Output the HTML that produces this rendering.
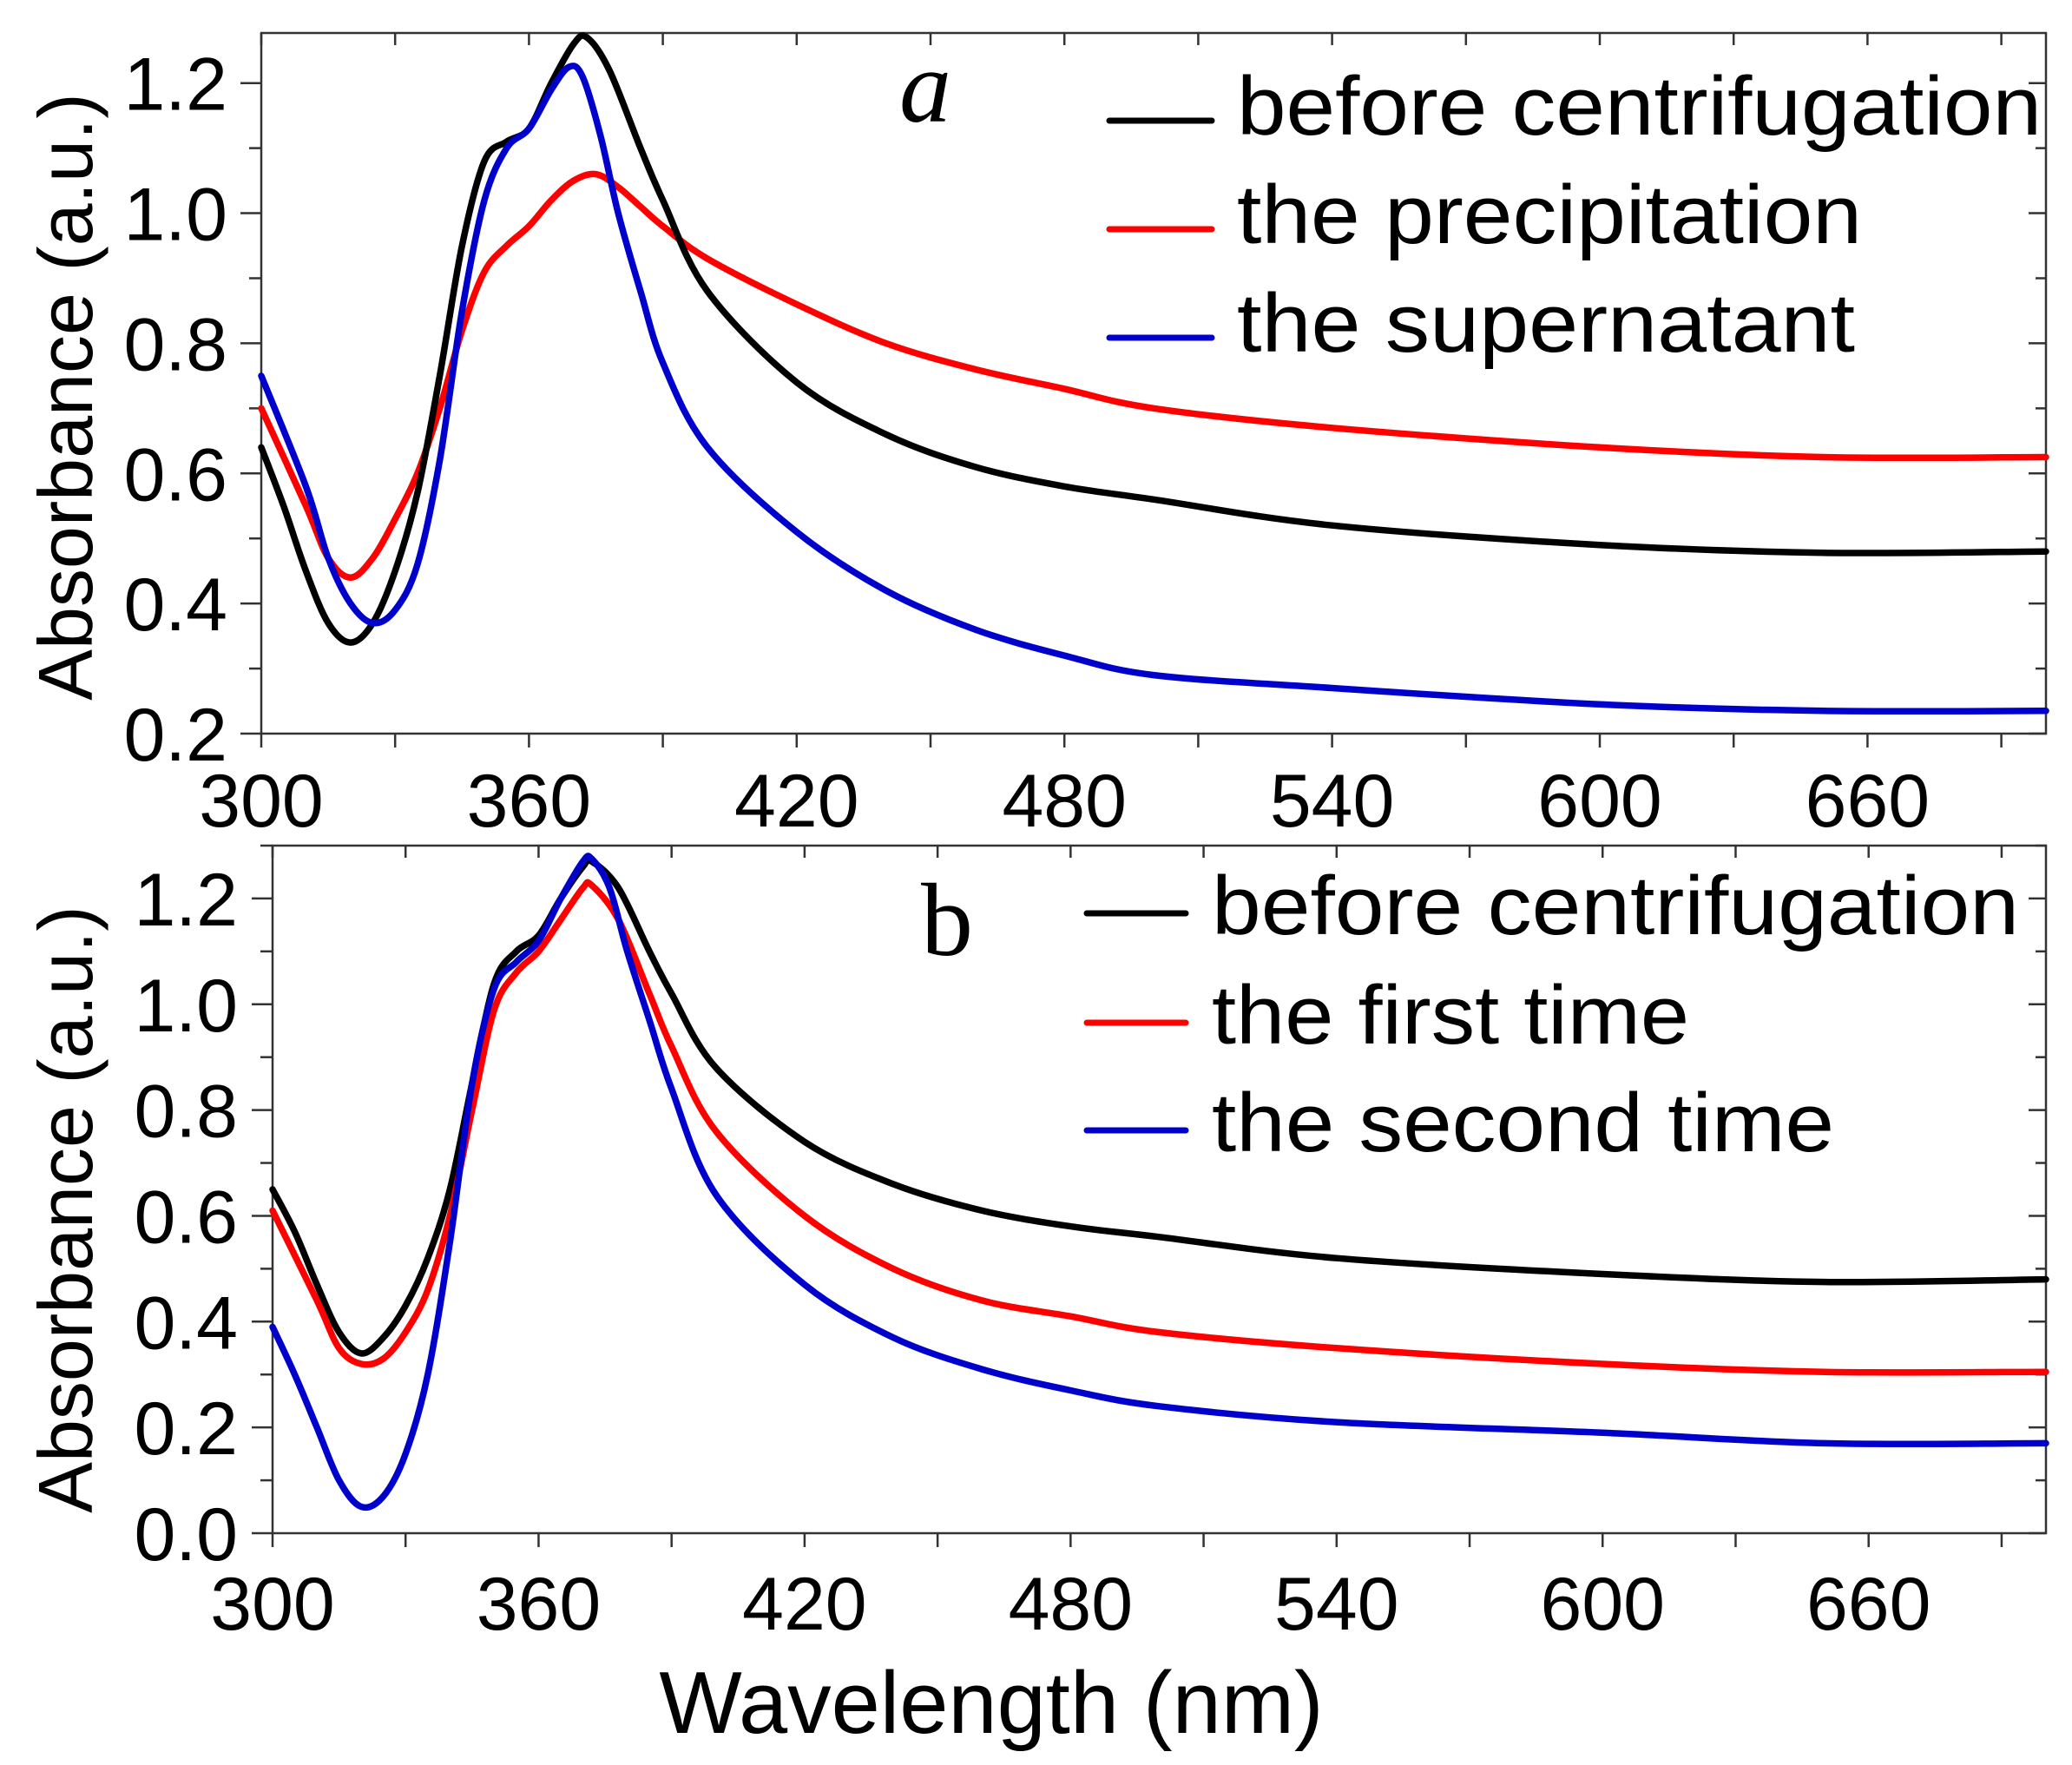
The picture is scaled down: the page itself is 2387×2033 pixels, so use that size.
<!DOCTYPE html>
<html><head><meta charset="utf-8"><style>html,body{margin:0;padding:0;background:#fff}svg{display:block}</style></head>
<body>
<svg id="s" width="2387" height="2033" viewBox="0 0 2387 2033" xmlns="http://www.w3.org/2000/svg" font-family="Liberation Sans, sans-serif">
<rect width="2387" height="2033" fill="#fff"/>
<g id="axes" stroke="#333" stroke-width="2.5" fill="none"></g>
<g id="curves" fill="none" stroke-width="7.5" stroke-linejoin="round" stroke-linecap="round"></g>
<g id="labels" font-size="86" fill="#000"></g>
<text transform="translate(106,457) rotate(-90)" font-size="88" text-anchor="middle">Absorbance (a.u.)</text>
<text transform="translate(106,1393) rotate(-90)" font-size="88" text-anchor="middle">Absorbance (a.u.)</text>
<text x="1142" y="1996" font-size="101" text-anchor="middle">Wavelength (nm)</text>
<text x="1066" y="140" font-size="120" font-style="italic" font-family="Liberation Serif, serif" text-anchor="middle">a</text>
<text x="1091" y="1100" font-size="120" font-family="Liberation Serif, serif" text-anchor="middle">b</text>
<g stroke-width="7" stroke-linecap="round">
<line x1="1278" y1="139" x2="1396" y2="139" stroke="#000"/>
<line x1="1278" y1="264" x2="1396" y2="264" stroke="#f00"/>
<line x1="1278" y1="389" x2="1396" y2="389" stroke="#00c"/>
<line x1="1252" y1="1052" x2="1366" y2="1052" stroke="#000"/>
<line x1="1252" y1="1178" x2="1366" y2="1178" stroke="#f00"/>
<line x1="1252" y1="1302" x2="1366" y2="1302" stroke="#00c"/>
</g>
<g font-size="96">
<text x="1425" y="155" textLength="927" lengthAdjust="spacingAndGlyphs">before centrifugation</text>
<text x="1425" y="280" textLength="720" lengthAdjust="spacingAndGlyphs">the precipitation</text>
<text x="1425" y="405" textLength="712" lengthAdjust="spacingAndGlyphs">the supernatant</text>
<text x="1396" y="1076" textLength="930" lengthAdjust="spacingAndGlyphs">before centrifugation</text>
<text x="1396" y="1202" textLength="550" lengthAdjust="spacingAndGlyphs">the first time</text>
<text x="1396" y="1326" textLength="717" lengthAdjust="spacingAndGlyphs">the second time</text>
</g>
</svg>
<script>
const NS="http://www.w3.org/2000/svg";
function el(p,t,a,txt){const e=document.createElementNS(NS,t);for(const k in a)e.setAttribute(k,a[k]);if(txt!==undefined)e.textContent=txt;document.getElementById(p).appendChild(e);return e;}
const P=[
 {L:301,R:2357,T:38,B:845,x0:300,x1:700,y0:0.2,ymax:1.277,yt:[0.2,0.4,0.6,0.8,1.0,1.2],tl:952,lx:262,
  curves:[
  ["#f00",[[300,.70],[310,.55],[315,.47],[320,.44],[325,.47],[330,.53],[335,.60],[340,.70],[345,.82],[350,.91],[355,.95],[360,.98],[365,1.02],[370,1.05],[375,1.06],[380,1.04],[385,1.01],[390,.98],[400,.93],[420,.86],[440,.80],[460,.76],[480,.73],[500,.70],[540,.67],[600,.64],[650,.625],[700,.625]]],
  ["#000",[[300,.64],[305,.55],[310,.45],[315,.37],[320,.34],[325,.37],[330,.45],[335,.57],[340,.75],[345,.95],[350,1.08],[355,1.11],[360,1.13],[365,1.20],[370,1.26],[373,1.27],[378,1.22],[385,1.10],[390,1.02],[400,.88],[420,.74],[440,.66],[460,.61],[480,.58],[500,.56],[540,.52],[600,.49],[650,.478],[700,.48]]],
  ["#00c",[[300,.75],[310,.58],[315,.47],[320,.40],[325,.37],[330,.39],[335,.46],[340,.62],[345,.85],[350,1.02],[355,1.10],[360,1.13],[365,1.19],[369,1.225],[372,1.21],[376,1.12],[380,1.00],[385,.88],[390,.77],[400,.64],[420,.51],[440,.42],[460,.36],[480,.32],[500,.29],[540,.27],[600,.245],[650,.235],[700,.235]]]]},
 {L:314,R:2357,T:974,B:1766,x0:300,x1:700,y0:0,ymax:1.30,yt:[0,0.2,0.4,0.6,0.8,1.0,1.2],tl:1877,lx:274,
  curves:[
  ["#000",[[300,.65],[305,.57],[310,.47],[315,.38],[320,.34],[325,.37],[330,.43],[335,.52],[340,.65],[345,.85],[350,1.04],[355,1.10],[360,1.13],[365,1.20],[370,1.26],[372,1.27],[378,1.22],[385,1.10],[390,1.02],[400,.88],[420,.74],[440,.66],[460,.61],[480,.58],[500,.56],[540,.52],[600,.49],[650,.475],[700,.48]]],
  ["#f00",[[300,.61],[310,.44],[315,.35],[320,.32],[325,.33],[330,.38],[335,.46],[340,.60],[345,.80],[350,.99],[355,1.06],[360,1.10],[365,1.16],[370,1.22],[372,1.225],[378,1.16],[385,1.02],[390,.92],[400,.76],[420,.60],[440,.50],[460,.44],[480,.41],[500,.38],[540,.35],[600,.32],[650,.305],[700,.305]]],
  ["#00c",[[300,.39],[305,.30],[310,.20],[315,.10],[320,.05],[325,.07],[330,.15],[335,.30],[340,.55],[345,.85],[350,1.03],[355,1.08],[360,1.12],[365,1.20],[370,1.27],[372,1.275],[376,1.22],[380,1.10],[385,.97],[390,.84],[400,.64],[420,.47],[440,.37],[460,.31],[480,.27],[500,.24],[540,.21],[600,.19],[650,.17],[700,.17]]]]}
];
for(const p of P){
 const X=v=>p.L+(v-p.x0)/(p.x1-p.x0)*(p.R-p.L);
 const yb=p.y0, pxPer=(p.B-p.T)/(p.ymax-yb);
 const Y=v=>p.B-(v-yb)*pxPer;
 el("axes","rect",{x:p.L,y:p.T,width:p.R-p.L,height:p.B-p.T});
 for(let v=300;v<=690;v+=30){const x=X(v);el("axes","line",{x1:x,y1:p.B,x2:x,y2:p.B+16});el("axes","line",{x1:x,y1:p.T,x2:x,y2:p.T+14});}
 for(let v=300;v<=660;v+=60) el("labels","text",{x:X(v),y:p.tl,"text-anchor":"middle"},String(v));
 for(let v=yb;v<=p.ymax+1e-6;v+=0.1){const y=Y(v);const major=Math.abs(Math.round(v*10)%2)==0;
  el("axes","line",{x1:p.L-(major?24:14),y1:y,x2:p.L,y2:y});el("axes","line",{x1:p.R,y1:y,x2:p.R-(major?20:12),y2:y});}
 for(const v of p.yt) el("labels","text",{x:p.lx,y:Y(v)+31,"text-anchor":"end"},v.toFixed(1));
 for(const [c,d] of p.curves){
  const pts=d.map(([a,b])=>[X(a),Y(b)]);
  let s="M"+pts[0][0].toFixed(1)+","+pts[0][1].toFixed(1);
  for(let i=0;i<pts.length-1;i++){const p0=pts[i-1]||pts[i],p1=pts[i],p2=pts[i+1],p3=pts[i+2]||p2;
   const c1=[p1[0]+(p2[0]-p0[0])/6,p1[1]+(p2[1]-p0[1])/6],c2=[p2[0]-(p3[0]-p1[0])/6,p2[1]-(p3[1]-p1[1])/6];
   s+=` C${c1[0].toFixed(1)},${c1[1].toFixed(1)} ${c2[0].toFixed(1)},${c2[1].toFixed(1)} ${p2[0].toFixed(1)},${p2[1].toFixed(1)}`;}
  el("curves","path",{d:s,stroke:c});
 }
}
</script>
</body></html>
